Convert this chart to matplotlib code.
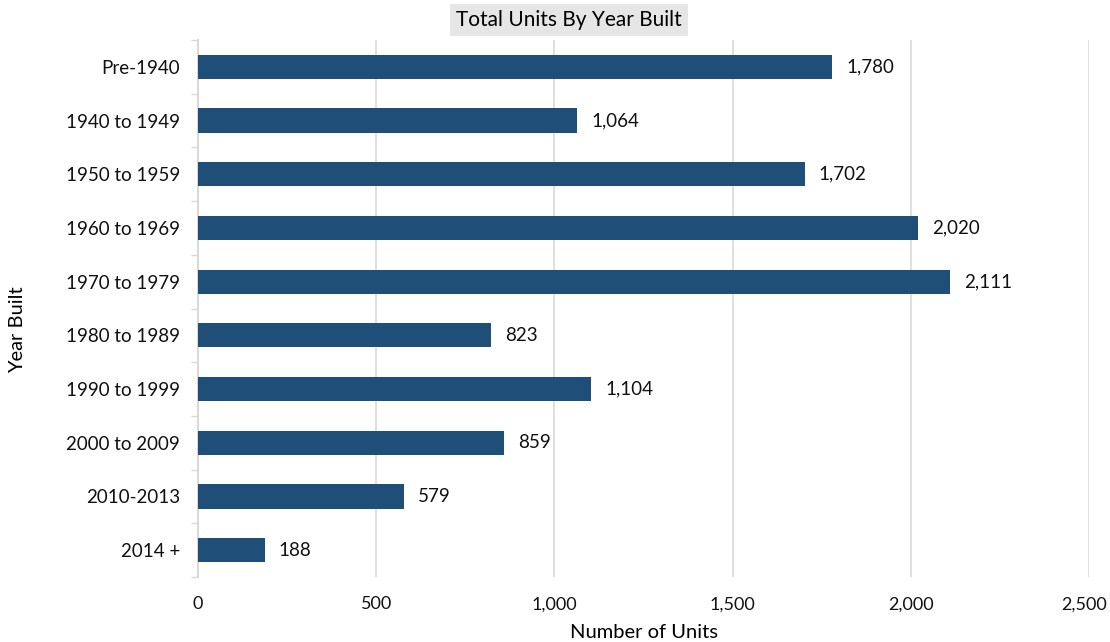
import matplotlib
matplotlib.use('Agg')
import matplotlib.pyplot as plt
import matplotlib.transforms as mtransforms
from matplotlib.ticker import FuncFormatter, FixedLocator

plt.rcParams['font.family'] = ['Lato', 'DejaVu Sans']

# Data
categories = ['Pre-1940', '1940 to 1949', '1950 to 1959', '1960 to 1969', '1970 to 1979',
              '1980 to 1989', '1990 to 1999', '2000 to 2009', '2010-2013', '2014 +']
units = [1780, 1064, 1702, 2020, 2111, 823, 1104, 859, 579, 188]
x_ticks = [0, 500, 1000, 1500, 2000, 2500]

bar_color = '#1f4e79'
grid_color = '#d9d9d9'

fig = plt.figure(figsize=(11.1, 6.42), dpi=100)
ax = fig.add_axes([198 / 1110, 1 - 577 / 642, 891 / 1110, 537 / 642])

pos = list(range(len(categories)))
ax.barh(pos, units, height=0.45, color=bar_color, zorder=3)

for p, v in zip(pos, units):
    ax.annotate(f'{v:,}', (v, p), xytext=(10, 0), textcoords='offset points',
                va='center', ha='left', fontsize=13.5, color='#111111')

ax.set_xlim(0, 2500)
ax.set_ylim(len(categories) - 0.5, -0.5)
ax.set_yticks(pos)
ax.set_yticklabels(categories, fontsize=13.5, color='#111111')
ax.yaxis.set_minor_locator(FixedLocator([p + 0.5 for p in pos[:-1]] + [-0.5, len(categories) - 0.5]))
ax.tick_params(axis='y', which='major', length=0, pad=13)
ax.tick_params(axis='y', which='minor', length=5, color=grid_color, width=1)

ax.set_xticks(x_ticks)
ax.xaxis.set_major_formatter(FuncFormatter(lambda v, _: f'{int(v):,}'))
ax.tick_params(axis='x', length=0, pad=14, labelsize=13, labelcolor='#111111')
# keep the last tick label inside the figure
last = ax.get_xticklabels()[-1]
last.set_horizontalalignment('right')
last.set_transform(last.get_transform() + mtransforms.ScaledTranslation(0.18, 0, fig.dpi_scale_trans))
ax.grid(axis='x', color=grid_color, linewidth=1.2, zorder=0)

for s in ['top', 'right', 'bottom']:
    ax.spines[s].set_visible(False)
ax.spines['left'].set_color(grid_color)
ax.spines['left'].set_linewidth(1.5)

ax.set_xlabel('Number of Units', fontsize=14.5, labelpad=8)
fig.text(18 / 1110, 1 - 330 / 642, 'Year Built', rotation=90, ha='center', va='center', fontsize=14.5)

fig.text(569 / 1110, 1 - 20 / 642, 'Total Units By Year Built', ha='center', va='center',
         fontsize=15, bbox=dict(boxstyle='square,pad=0.3', facecolor='#e6e6e6', edgecolor='none'))

fig.savefig('out.png', dpi=100, facecolor='white')
